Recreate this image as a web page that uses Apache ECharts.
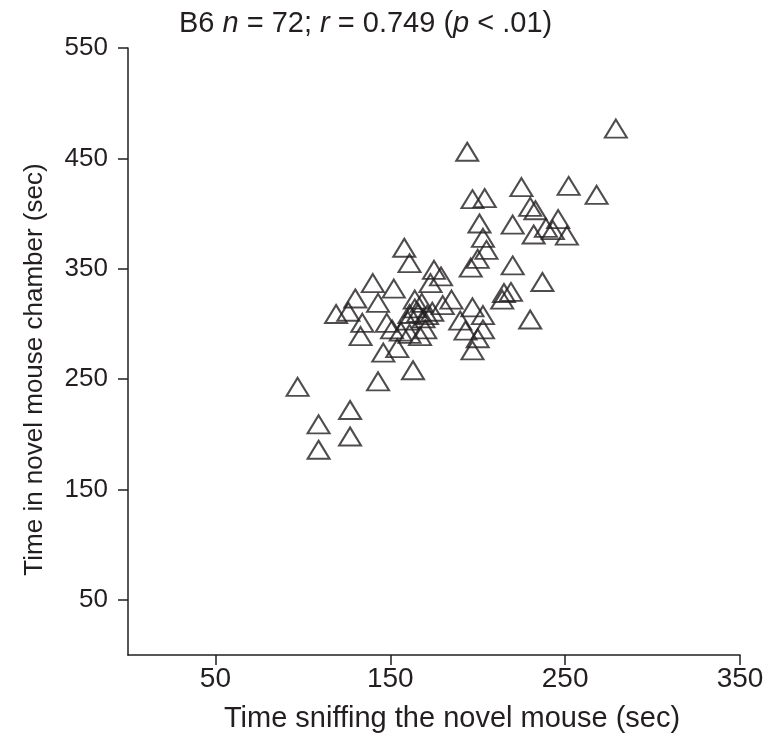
<!DOCTYPE html>
<html>
<head>
<meta charset="utf-8">
<script src="https://cdn.jsdelivr.net/npm/echarts@6/dist/echarts.min.js"></script>
<style>
  html, body { margin: 0; padding: 0; background: #fff; }
  #chart { width: 771px; height: 743px; }
</style>
</head>
<body>
<div id="chart"></div>
<script>
// time sniffing the novel mouse (sec)
var sniffTime = [
  279, 194, 225, 252, 268, 197, 204, 230, 233, 201,
  220, 246, 239, 243, 232, 251, 203, 205, 200, 196,
  220, 237, 215, 219, 214, 230, 197, 203, 190, 193,
  203, 200, 197, 185, 180, 173, 175, 179, 158, 161,
  152, 140, 130, 143, 119, 126, 134, 133, 148, 151,
  164, 168, 161, 166, 171, 156, 161, 167, 170, 146,
  154, 163, 143, 97, 127, 109, 127, 109, 164, 169,
  160, 174
];
// time in novel mouse chamber (sec)
var chamberTime = [
  477, 456, 424, 425, 417, 413, 414, 406, 403, 391,
  390, 395, 387, 385, 381, 380, 378, 367, 359, 351,
  353, 338, 328, 329, 322, 304, 315, 308, 303, 294,
  295, 287, 276, 322, 317, 337, 349, 343, 369, 355,
  332, 337, 323, 319, 309, 311, 301, 289, 301, 295,
  322, 319, 309, 310, 308, 293, 291, 289, 295, 274,
  278, 258, 248, 243, 222, 209, 198, 186, 314, 305,
  303, 311
];
var xTicks = [50, 150, 250, 350];
var yTicks = [50, 150, 250, 350, 450, 550];

var points = sniffTime.map(function (x, i) { return [x, chamberTime[i]]; });

var ink = '#231f20';
var font = 'Liberation Sans, Arial, sans-serif';

var myChart = echarts.init(document.getElementById('chart'));
myChart.setOption({
  animation: false,
  title: {
    text: '{t|B6 }{i|n}{t| = 72; }{i|r}{t| = 0.749 (}{i|p}{t| < .01)}',
    left: 174,
    top: 4,
    textStyle: {
      fontWeight: 'normal',
      rich: {
        t: { fontSize: 29, color: ink, fontFamily: font, fontWeight: 'normal' },
        i: { fontSize: 29, color: ink, fontFamily: font, fontWeight: 'normal', fontStyle: 'italic' }
      }
    }
  },
  grid: { // plot area
    left: 128,
    right: 31,
    top: 48,
    bottom: 88
  },
  xAxis: {
    type: 'value',
    min: 0,
    max: 350,
    name: 'Time sniffing the novel mouse (sec)',
    nameLocation: 'middle',
    nameGap: 49,
    nameTextStyle: { fontSize: 29, color: ink, fontFamily: font, padding: [0, 0, 0, 36] },
    splitLine: { show: false },
    axisLine: { lineStyle: { color: ink, width: 1.5 } },
    axisTick: {
      length: 10,
      customValues: xTicks,
      lineStyle: { color: ink, width: 1.5 }
    },
    axisLabel: {
      customValues: xTicks,
      margin: 10,
      fontSize: 28,
      color: ink,
      fontFamily: font
    }
  },
  yAxis: {
    type: 'value',
    min: 0,
    max: 550,
    name: 'Time in novel mouse chamber (sec)',
    nameLocation: 'middle',
    nameGap: 80,
    nameTextStyle: { fontSize: 26, color: ink, fontFamily: font, padding: [0, 36, 0, 0] },
    splitLine: { show: false },
    axisLine: { show: true, lineStyle: { color: ink, width: 1.5 } },
    axisTick: {
      show: true,
      length: 10,
      customValues: yTicks,
      lineStyle: { color: ink, width: 1.5 }
    },
    axisLabel: {
      customValues: yTicks,
      margin: 20,
      fontSize: 26,
      color: ink,
      fontFamily: font
    }
  },
  series: [
    {
      type: 'scatter',
      symbol: 'triangle',
      symbolSize: [22, 18],
      itemStyle: {
        color: 'rgba(255,255,255,0)',
        borderColor: ink,
        borderWidth: 2
      },
      data: points
    }
  ]
});
</script>
</body>
</html>
